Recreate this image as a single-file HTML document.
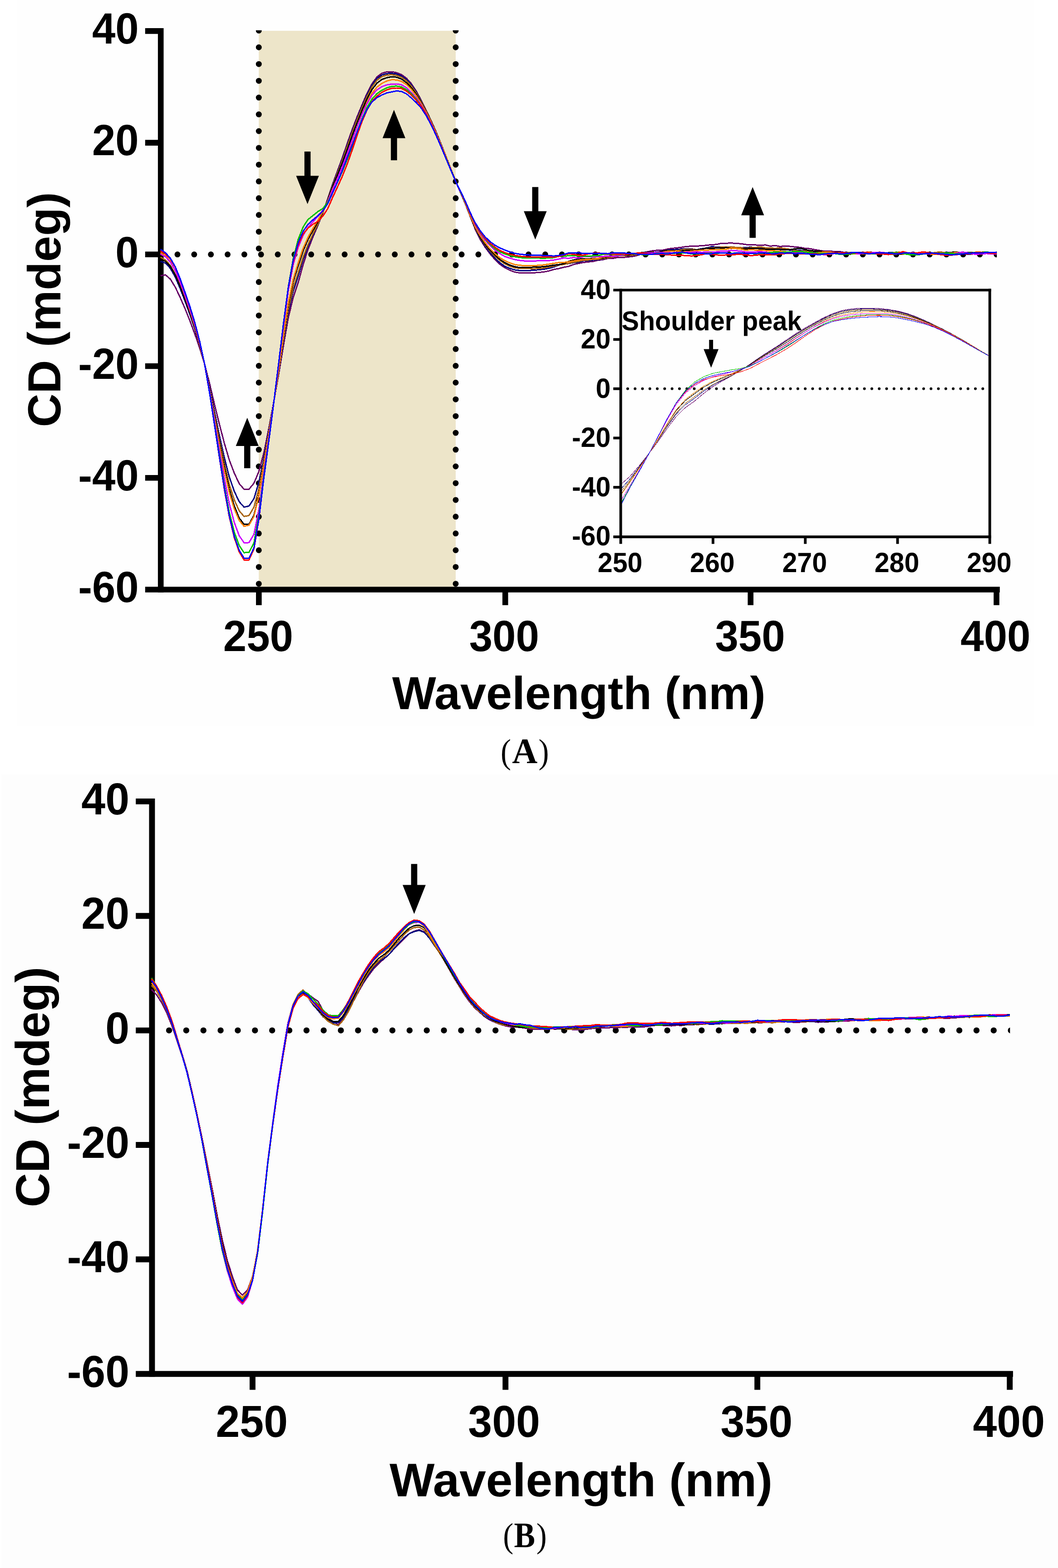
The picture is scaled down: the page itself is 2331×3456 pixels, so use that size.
<!DOCTYPE html>
<html lang="en">
<head>
<meta charset="utf-8">
<title>CD spectra</title>
<style>
html,body{margin:0;padding:0;background:#fff;}
body{width:2331px;height:3456px;overflow:hidden;}
svg{display:block;}
</style>
</head>
<body>
<svg width="2331" height="3456" viewBox="0 0 2331 3456" shape-rendering="geometricPrecision" text-rendering="geometricPrecision">
<rect x="0" y="0" width="2331" height="3456" fill="#ffffff"/>
<rect x="37" y="0" width="2241" height="1599.5" fill="#fefefe"/>
<rect x="3" y="1707" width="2328" height="1749" fill="#fdfdfd"/>
<defs>
<clipPath id="clipA"><rect x="340" y="66.7" width="1856.2" height="1240"/></clipPath>
<clipPath id="clipI"><rect x="1367.6" y="639.4" width="813.1" height="543.7"/></clipPath>
<clipPath id="clipB"><rect x="320" y="1760" width="1905.3" height="1275"/></clipPath>
</defs>
<g id="panelA">
<rect x="570.2" y="67.9" width="433.8" height="1225.3" fill="#ede5c9"/>
<polygon points="544.7,920.7 569.9,983.0 551.5,983.0 551.5,1032.1 537.9,1032.1 537.9,983.0 519.6,983.0" fill="#000"/>
<polygon points="677.5,449.7 702.6,387.4 684.3,387.4 684.3,334.1 670.7,334.1 670.7,387.4 652.4,387.4" fill="#000"/>
<polygon points="868.0,242.1 893.1,304.4 874.8,304.4 874.8,353.2 861.2,353.2 861.2,304.4 842.9,304.4" fill="#000"/>
<polygon points="1179.3,527.9 1204.5,465.6 1186.1,465.6 1186.1,412.3 1172.5,412.3 1172.5,465.6 1154.1,465.6" fill="#000"/>
<polygon points="1658.2,412.3 1683.4,474.6 1665.0,474.6 1665.0,524.2 1651.4,524.2 1651.4,474.6 1633.0,474.6" fill="#000"/>
<g stroke="#000" stroke-width="12.6" fill="none" stroke-linecap="butt">
<line x1="354.2" y1="62.1" x2="354.2" y2="1305.8"/>
<line x1="319.8" y1="1299.5" x2="2202.8" y2="1299.5"/>
<line x1="319.8" y1="68.4" x2="354.2" y2="68.4"/>
<line x1="319.8" y1="314.6" x2="354.2" y2="314.6"/>
<line x1="319.8" y1="560.8" x2="354.2" y2="560.8"/>
<line x1="319.8" y1="807" x2="354.2" y2="807"/>
<line x1="319.8" y1="1053.2" x2="354.2" y2="1053.2"/>
<line x1="570.3" y1="1299.5" x2="570.3" y2="1333.8"/>
<line x1="1113.2" y1="1299.5" x2="1113.2" y2="1333.8"/>
<line x1="1653.7" y1="1299.5" x2="1653.7" y2="1333.8"/>
<line x1="2195.5" y1="1299.5" x2="2195.5" y2="1333.8"/>
</g>
<g clip-path="url(#clipA)" stroke="#000" stroke-width="13" stroke-linecap="round" fill="none">
<line x1="570.2" y1="67.3" x2="570.2" y2="1290" stroke-dasharray="0 36.95"/>
<line x1="1004" y1="67.3" x2="1004" y2="1290" stroke-dasharray="0 36.95"/>
<line x1="391" y1="560.8" x2="2200" y2="560.8" stroke-dasharray="0 36.83"/>
</g>
<g clip-path="url(#clipA)">
<polyline points="353.6,607.9 364.4,605.7 375.3,615.1 386.1,632.8 396.9,655.5 407.8,680.5 418.6,707.6 429.4,736.7 440.3,768.1 451.1,803.8 462.0,846.3 472.8,892.1 483.6,935.9 494.5,977.6 505.3,1014.2 516.1,1042.5 527.0,1065.9 537.8,1078.4 548.6,1078.4 559.5,1065.0 570.3,1039.3 581.1,999.2 592.0,945.7 602.8,887.8 613.6,827.3 624.5,761.5 635.3,700.0 646.1,655.1 657.0,622.7 667.8,583.6 678.7,549.7 689.5,522.3 700.3,497.0 711.2,469.2 722.0,438.6 732.8,405.9 743.7,376.3 754.5,347.0 765.3,315.2 776.2,284.7 787.0,256.8 797.8,230.7 808.7,205.5 819.5,184.9 830.3,169.8 841.2,161.5 852.0,158.5 862.8,158.1 873.7,160.1 884.5,164.4 895.4,172.4 906.2,184.3 917.0,200.8 927.9,220.8 938.7,242.3 949.5,265.3 960.4,289.6 971.2,315.8 982.0,342.9 992.9,371.6 1003.7,399.5 1014.5,424.5 1025.4,449.9 1036.2,477.8 1047.0,505.2 1057.9,527.5 1068.7,544.6 1079.5,559.3 1090.4,571.7 1101.2,582.4 1112.1,590.0 1122.9,595.4 1133.7,599.6 1144.6,601.4 1155.4,601.6 1166.2,601.2 1177.1,601.2 1187.9,600.5 1198.7,599.3 1209.6,597.1 1220.4,593.9 1231.2,591.9 1242.1,589.1 1252.9,587.0 1263.7,583.0 1274.6,580.6 1285.4,578.5 1296.2,577.2 1307.1,576.3 1317.9,573.6 1328.8,572.3 1339.6,569.6 1350.4,569.6 1361.3,567.4 1372.1,567.5 1382.9,566.4 1393.8,565.3 1404.6,562.9 1415.4,559.2 1426.3,555.0 1437.1,552.9 1447.9,551.7 1458.8,551.7 1469.6,549.1 1480.4,547.4 1491.3,546.4 1502.1,545.0 1512.9,543.2 1523.8,542.8 1534.6,542.3 1545.5,541.7 1556.3,540.7 1567.1,539.3 1578.0,538.9 1588.8,536.4 1599.6,536.3 1610.5,535.5 1621.3,536.8 1632.1,537.1 1643.0,538.9 1653.8,539.8 1664.6,539.9 1675.5,540.7 1686.3,539.8 1697.1,542.5 1708.0,541.2 1718.8,543.5 1729.6,542.1 1740.5,543.1 1751.3,544.2 1762.2,545.2 1773.0,547.3 1783.8,548.1 1794.7,550.1 1805.5,552.0 1816.3,553.6 1827.2,553.3 1838.0,554.4 1848.8,554.2 1859.7,556.4 1870.5,556.9 1881.3,558.4 1892.2,557.0 1903.0,556.9 1913.8,555.2 1924.7,556.4 1935.5,557.1 1946.3,558.3 1957.2,558.9 1968.0,558.4 1978.9,558.5 1989.7,558.3 2000.5,559.5 2011.4,559.9 2022.2,558.4 2033.0,557.8 2043.9,558.1 2054.7,559.2 2065.5,557.5 2076.4,557.9 2087.2,558.4 2098.0,560.1 2108.9,560.4 2119.7,559.6 2130.5,559.1 2141.4,557.7 2152.2,558.9 2163.0,558.5 2173.9,559.0 2184.7,558.5 2195.6,559.8" fill="none" stroke="#660066" stroke-width="3" stroke-linejoin="round" stroke-linecap="butt" shape-rendering="crispEdges"/>
<polyline points="353.6,576.0 364.4,579.8 375.3,591.3 386.1,610.4 396.9,635.8 407.8,663.9 418.6,693.7 429.4,726.1 440.3,762.5 451.1,804.2 462.0,854.1 472.8,908.3 483.6,960.3 494.5,1009.7 505.3,1051.6 516.1,1082.6 527.0,1105.8 537.8,1117.8 548.6,1115.3 559.5,1099.2 570.3,1063.3 581.1,1011.7 592.0,951.0 602.8,887.2 613.6,821.1 624.5,751.6 635.3,687.4 646.1,641.1 657.0,608.5 667.8,572.4 678.7,542.4 689.5,518.3 700.3,496.1 711.2,470.0 722.0,440.0 732.8,407.3 743.7,378.6 754.5,350.4 765.3,319.4 776.2,288.9 787.0,260.9 797.8,234.4 808.7,209.2 819.5,188.3 830.3,173.2 841.2,165.3 852.0,162.2 862.8,161.6 873.7,163.1 884.5,167.2 895.4,175.2 906.2,186.8 917.0,202.8 927.9,221.8 938.7,243.4 949.5,266.0 960.4,290.6 971.2,316.0 982.0,343.6 992.9,371.9 1003.7,399.4 1014.5,423.8 1025.4,449.2 1036.2,477.3 1047.0,503.6 1057.9,525.1 1068.7,542.1 1079.5,556.6 1090.4,569.0 1101.2,579.1 1112.1,586.9 1122.9,591.5 1133.7,594.8 1144.6,596.3 1155.4,596.6 1166.2,596.2 1177.1,595.6 1187.9,594.6 1198.7,593.4 1209.6,591.4 1220.4,588.4 1231.2,584.5 1242.1,581.7 1252.9,580.9 1263.7,578.9 1274.6,578.0 1285.4,574.8 1296.2,574.8 1307.1,573.0 1317.9,572.4 1328.8,570.9 1339.6,567.8 1350.4,565.0 1361.3,562.8 1372.1,562.2 1382.9,561.8 1393.8,562.4 1404.6,561.5 1415.4,560.5 1426.3,556.9 1437.1,556.7 1447.9,555.6 1458.8,554.7 1469.6,551.9 1480.4,550.6 1491.3,549.7 1502.1,548.7 1512.9,548.8 1523.8,548.4 1534.6,550.6 1545.5,548.3 1556.3,546.7 1567.1,543.9 1578.0,544.1 1588.8,544.4 1599.6,545.0 1610.5,545.9 1621.3,546.2 1632.1,546.5 1643.0,545.2 1653.8,544.9 1664.6,545.3 1675.5,547.5 1686.3,548.9 1697.1,548.1 1708.0,547.8 1718.8,547.8 1729.6,549.8 1740.5,551.4 1751.3,551.9 1762.2,551.7 1773.0,552.8 1783.8,554.0 1794.7,555.3 1805.5,555.3 1816.3,556.8 1827.2,557.3 1838.0,558.5 1848.8,556.8 1859.7,557.5 1870.5,556.6 1881.3,556.3 1892.2,556.1 1903.0,557.3 1913.8,558.5 1924.7,558.3 1935.5,558.8 1946.3,558.6 1957.2,557.0 1968.0,556.5 1978.9,557.1 1989.7,559.6 2000.5,559.2 2011.4,560.0 2022.2,560.1 2033.0,559.3 2043.9,559.1 2054.7,557.3 2065.5,557.1 2076.4,556.2 2087.2,556.6 2098.0,556.3 2108.9,556.7 2119.7,557.6 2130.5,560.4 2141.4,560.2 2152.2,558.5 2163.0,556.6 2173.9,557.4 2184.7,559.3 2195.6,560.5" fill="none" stroke="#000080" stroke-width="3" stroke-linejoin="round" stroke-linecap="butt" shape-rendering="crispEdges"/>
<polyline points="353.6,567.1 364.4,572.8 375.3,584.8 386.1,604.1 396.9,629.9 407.8,659.4 418.6,690.8 429.4,724.2 440.3,761.9 451.1,804.6 462.0,856.7 472.8,913.5 483.6,968.8 494.5,1022.3 505.3,1067.7 516.1,1101.6 527.0,1125.9 537.8,1138.3 548.6,1136.3 559.5,1117.8 570.3,1077.2 581.1,1018.9 592.0,955.0 602.8,888.5 613.6,819.8 624.5,747.8 635.3,681.2 646.1,633.9 657.0,600.8 667.8,566.8 678.7,538.7 689.5,515.8 700.3,494.3 711.2,469.2 722.0,440.7 732.8,409.4 743.7,381.0 754.5,353.0 765.3,322.0 776.2,291.5 787.0,263.6 797.8,237.2 808.7,212.4 819.5,191.6 830.3,177.2 841.2,168.9 852.0,165.6 862.8,164.6 873.7,166.3 884.5,170.2 895.4,177.7 906.2,189.6 917.0,204.9 927.9,223.8 938.7,244.0 949.5,266.8 960.4,291.0 971.2,317.1 982.0,343.5 992.9,371.5 1003.7,398.3 1014.5,423.4 1025.4,448.5 1036.2,476.8 1047.0,502.6 1057.9,523.4 1068.7,539.5 1079.5,552.9 1090.4,564.6 1101.2,573.9 1112.1,581.5 1122.9,586.7 1133.7,590.2 1144.6,591.6 1155.4,591.8 1166.2,592.0 1177.1,592.1 1187.9,591.7 1198.7,590.6 1209.6,588.6 1220.4,586.3 1231.2,584.0 1242.1,582.9 1252.9,580.3 1263.7,577.9 1274.6,576.4 1285.4,573.1 1296.2,573.2 1307.1,571.2 1317.9,571.3 1328.8,569.9 1339.6,568.2 1350.4,566.7 1361.3,564.1 1372.1,563.3 1382.9,562.8 1393.8,562.2 1404.6,560.8 1415.4,557.8 1426.3,557.0 1437.1,555.7 1447.9,556.6 1458.8,554.2 1469.6,554.0 1480.4,553.2 1491.3,552.9 1502.1,550.3 1512.9,549.3 1523.8,549.4 1534.6,550.2 1545.5,549.2 1556.3,547.3 1567.1,546.7 1578.0,545.6 1588.8,544.9 1599.6,544.9 1610.5,544.0 1621.3,545.3 1632.1,545.7 1643.0,547.8 1653.8,545.7 1664.6,545.4 1675.5,544.2 1686.3,546.2 1697.1,546.5 1708.0,547.3 1718.8,546.4 1729.6,547.8 1740.5,549.4 1751.3,552.2 1762.2,553.4 1773.0,553.5 1783.8,553.2 1794.7,553.4 1805.5,555.6 1816.3,557.1 1827.2,555.7 1838.0,557.3 1848.8,556.9 1859.7,559.3 1870.5,556.5 1881.3,558.1 1892.2,557.7 1903.0,559.9 1913.8,560.0 1924.7,558.7 1935.5,556.9 1946.3,556.5 1957.2,558.5 1968.0,560.8 1978.9,560.8 1989.7,560.2 2000.5,558.7 2011.4,558.5 2022.2,559.4 2033.0,559.4 2043.9,559.4 2054.7,557.4 2065.5,555.9 2076.4,556.0 2087.2,557.7 2098.0,559.3 2108.9,559.7 2119.7,559.7 2130.5,559.7 2141.4,560.1 2152.2,559.0 2163.0,559.0 2173.9,558.0 2184.7,558.6 2195.6,559.1" fill="none" stroke="#a86410" stroke-width="3" stroke-linejoin="round" stroke-linecap="butt" shape-rendering="crispEdges"/>
<polyline points="353.6,571.4 364.4,576.0 375.3,587.2 386.1,606.1 396.9,631.5 407.8,660.2 418.6,690.4 429.4,723.1 440.3,760.6 451.1,804.2 462.0,857.9 472.8,917.2 483.6,975.2 494.5,1030.8 505.3,1079.0 516.1,1115.0 527.0,1141.7 537.8,1155.9 548.6,1155.3 559.5,1135.8 570.3,1090.4 581.1,1025.9 592.0,958.8 602.8,888.5 613.6,816.0 624.5,740.3 635.3,670.7 646.1,620.5 657.0,585.6 667.8,552.9 678.7,527.7 689.5,507.9 700.3,489.1 711.2,466.7 722.0,440.6 732.8,411.6 743.7,384.7 754.5,358.2 765.3,328.9 776.2,298.5 787.0,270.0 797.8,242.8 808.7,218.0 819.5,197.5 830.3,183.5 841.2,175.2 852.0,171.3 862.8,169.2 873.7,170.2 884.5,174.1 895.4,182.1 906.2,193.4 917.0,207.9 927.9,225.6 938.7,245.7 949.5,267.8 960.4,291.9 971.2,317.4 982.0,344.3 992.9,371.7 1003.7,398.6 1014.5,422.8 1025.4,448.0 1036.2,475.5 1047.0,501.2 1057.9,522.0 1068.7,538.0 1079.5,551.3 1090.4,562.2 1101.2,571.8 1112.1,579.0 1122.9,584.2 1133.7,587.7 1144.6,589.6 1155.4,589.8 1166.2,589.4 1177.1,588.8 1187.9,588.4 1198.7,587.6 1209.6,586.1 1220.4,584.4 1231.2,583.2 1242.1,581.1 1252.9,576.1 1263.7,573.0 1274.6,571.2 1285.4,570.4 1296.2,570.4 1307.1,569.6 1317.9,569.1 1328.8,568.1 1339.6,566.7 1350.4,563.3 1361.3,562.0 1372.1,561.6 1382.9,561.9 1393.8,559.7 1404.6,558.6 1415.4,556.3 1426.3,557.0 1437.1,556.0 1447.9,556.2 1458.8,553.9 1469.6,552.0 1480.4,552.4 1491.3,553.1 1502.1,553.0 1512.9,551.7 1523.8,551.6 1534.6,550.5 1545.5,549.1 1556.3,546.9 1567.1,547.7 1578.0,546.7 1588.8,546.9 1599.6,545.7 1610.5,547.3 1621.3,547.9 1632.1,548.6 1643.0,548.5 1653.8,547.5 1664.6,547.7 1675.5,548.2 1686.3,549.1 1697.1,550.1 1708.0,549.1 1718.8,550.1 1729.6,550.5 1740.5,550.5 1751.3,548.4 1762.2,547.1 1773.0,549.7 1783.8,552.4 1794.7,553.2 1805.5,553.7 1816.3,555.1 1827.2,556.7 1838.0,556.6 1848.8,556.8 1859.7,558.6 1870.5,560.4 1881.3,559.4 1892.2,558.9 1903.0,557.9 1913.8,558.4 1924.7,557.4 1935.5,557.7 1946.3,557.5 1957.2,558.8 1968.0,558.9 1978.9,560.2 1989.7,558.6 2000.5,558.3 2011.4,558.1 2022.2,559.4 2033.0,559.5 2043.9,558.4 2054.7,559.4 2065.5,560.1 2076.4,561.0 2087.2,557.6 2098.0,556.0 2108.9,555.8 2119.7,557.3 2130.5,556.4 2141.4,556.5 2152.2,557.4 2163.0,558.1 2173.9,557.5 2184.7,556.7 2195.6,558.1" fill="none" stroke="#000000" stroke-width="3" stroke-linejoin="round" stroke-linecap="butt" shape-rendering="crispEdges"/>
<polyline points="353.6,557.0 364.4,563.9 375.3,576.3 386.1,595.9 396.9,622.8 407.8,653.3 418.6,685.0 429.4,719.3 440.3,758.8 451.1,804.4 462.0,860.8 472.8,922.1 483.6,981.8 494.5,1038.1 505.3,1086.2 516.1,1121.5 527.0,1147.1 537.8,1160.1 548.6,1157.5 559.5,1138.5 570.3,1092.7 581.1,1027.7 592.0,959.8 602.8,889.5 613.6,815.4 624.5,738.2 635.3,666.7 646.1,615.1 657.0,579.4 667.8,547.3 678.7,522.8 689.5,503.3 700.3,485.7 711.2,466.2 722.0,443.3 732.8,416.3 743.7,392.3 754.5,367.8 765.3,340.7 776.2,309.5 787.0,279.2 797.8,250.8 808.7,225.2 819.5,205.5 830.3,192.3 841.2,183.9 852.0,178.6 862.8,175.8 873.7,176.1 884.5,179.3 895.4,186.1 906.2,196.9 917.0,210.8 927.9,227.7 938.7,247.1 949.5,268.8 960.4,292.4 971.2,317.9 982.0,344.5 992.9,372.5 1003.7,398.9 1014.5,423.2 1025.4,447.9 1036.2,475.3 1047.0,499.6 1057.9,519.4 1068.7,534.6 1079.5,548.2 1090.4,559.0 1101.2,568.0 1112.1,574.5 1122.9,579.3 1133.7,583.0 1144.6,584.8 1155.4,585.3 1166.2,585.5 1177.1,585.3 1187.9,584.8 1198.7,583.7 1209.6,582.1 1220.4,580.4 1231.2,578.7 1242.1,578.4 1252.9,577.0 1263.7,575.3 1274.6,573.3 1285.4,572.1 1296.2,571.8 1307.1,570.7 1317.9,569.3 1328.8,566.3 1339.6,565.6 1350.4,563.8 1361.3,562.9 1372.1,560.9 1382.9,560.1 1393.8,558.9 1404.6,558.7 1415.4,559.2 1426.3,558.7 1437.1,558.2 1447.9,556.0 1458.8,556.2 1469.6,554.0 1480.4,553.5 1491.3,552.8 1502.1,555.1 1512.9,554.9 1523.8,553.5 1534.6,552.3 1545.5,551.6 1556.3,551.7 1567.1,550.3 1578.0,550.6 1588.8,549.8 1599.6,549.5 1610.5,546.9 1621.3,547.7 1632.1,548.9 1643.0,551.7 1653.8,550.4 1664.6,551.2 1675.5,551.1 1686.3,552.0 1697.1,552.3 1708.0,553.0 1718.8,553.8 1729.6,554.9 1740.5,555.5 1751.3,555.7 1762.2,554.4 1773.0,554.7 1783.8,556.6 1794.7,557.4 1805.5,556.9 1816.3,555.3 1827.2,555.3 1838.0,557.1 1848.8,557.3 1859.7,557.9 1870.5,558.4 1881.3,559.8 1892.2,558.3 1903.0,557.2 1913.8,555.7 1924.7,557.4 1935.5,556.9 1946.3,558.4 1957.2,558.2 1968.0,557.0 1978.9,555.9 1989.7,556.2 2000.5,558.4 2011.4,558.7 2022.2,557.4 2033.0,557.7 2043.9,559.4 2054.7,560.7 2065.5,560.3 2076.4,558.8 2087.2,557.5 2098.0,557.2 2108.9,556.7 2119.7,558.7 2130.5,558.2 2141.4,557.2 2152.2,555.6 2163.0,556.1 2173.9,557.7 2184.7,556.9 2195.6,557.9" fill="none" stroke="#ff8000" stroke-width="3" stroke-linejoin="round" stroke-linecap="butt" shape-rendering="crispEdges"/>
<polyline points="353.6,560.1 364.4,566.0 375.3,577.6 386.1,596.3 396.9,621.7 407.8,651.6 418.6,682.8 429.4,717.3 440.3,757.2 451.1,804.2 462.0,863.3 472.8,928.5 483.6,993.2 494.5,1055.7 505.3,1110.3 516.1,1151.3 527.0,1180.7 537.8,1196.5 548.6,1195.9 559.5,1177.6 570.3,1123.1 581.1,1044.8 592.0,968.5 602.8,889.7 613.6,806.3 624.5,719.3 635.3,640.1 646.1,583.2 657.0,545.1 667.8,519.0 678.7,500.9 689.5,489.1 700.3,477.0 711.2,463.4 722.0,444.2 732.8,417.9 743.7,392.4 754.5,366.4 765.3,337.2 776.2,307.4 787.0,278.8 797.8,251.9 808.7,228.4 819.5,210.0 830.3,198.2 841.2,191.1 852.0,187.2 862.8,185.5 873.7,185.0 884.5,186.8 895.4,193.3 906.2,203.3 917.0,215.9 927.9,231.2 938.7,249.8 949.5,271.2 960.4,294.5 971.2,319.8 982.0,346.0 992.9,372.9 1003.7,399.2 1014.5,422.4 1025.4,446.2 1036.2,472.2 1047.0,495.5 1057.9,514.4 1068.7,529.1 1079.5,541.0 1090.4,551.4 1101.2,558.9 1112.1,565.2 1122.9,568.9 1133.7,572.0 1144.6,574.0 1155.4,575.1 1166.2,575.6 1177.1,575.2 1187.9,574.8 1198.7,574.7 1209.6,574.2 1220.4,573.2 1231.2,571.0 1242.1,568.7 1252.9,569.3 1263.7,567.7 1274.6,568.8 1285.4,565.7 1296.2,565.9 1307.1,565.3 1317.9,565.3 1328.8,565.2 1339.6,564.4 1350.4,565.2 1361.3,563.8 1372.1,561.9 1382.9,559.3 1393.8,558.8 1404.6,557.8 1415.4,558.1 1426.3,557.6 1437.1,557.5 1447.9,556.2 1458.8,556.1 1469.6,556.5 1480.4,557.2 1491.3,556.6 1502.1,557.0 1512.9,555.8 1523.8,556.1 1534.6,554.8 1545.5,556.2 1556.3,555.5 1567.1,555.4 1578.0,555.0 1588.8,553.6 1599.6,553.7 1610.5,551.9 1621.3,552.8 1632.1,553.5 1643.0,555.3 1653.8,555.7 1664.6,555.1 1675.5,554.7 1686.3,555.4 1697.1,557.0 1708.0,557.3 1718.8,559.0 1729.6,557.2 1740.5,557.7 1751.3,556.5 1762.2,557.2 1773.0,557.0 1783.8,557.9 1794.7,559.3 1805.5,560.5 1816.3,561.2 1827.2,560.8 1838.0,558.8 1848.8,558.1 1859.7,557.0 1870.5,559.5 1881.3,558.5 1892.2,559.4 1903.0,558.4 1913.8,558.3 1924.7,556.7 1935.5,556.5 1946.3,556.9 1957.2,559.2 1968.0,558.9 1978.9,559.2 1989.7,557.8 2000.5,558.3 2011.4,556.7 2022.2,559.0 2033.0,559.2 2043.9,559.9 2054.7,558.6 2065.5,559.0 2076.4,559.9 2087.2,560.8 2098.0,560.1 2108.9,557.8 2119.7,555.8 2130.5,556.8 2141.4,559.5 2152.2,560.8 2163.0,559.1 2173.9,559.0 2184.7,559.2 2195.6,559.3" fill="none" stroke="#cc00ff" stroke-width="3" stroke-linejoin="round" stroke-linecap="butt" shape-rendering="crispEdges"/>
<polyline points="353.6,550.2 364.4,558.0 375.3,569.3 386.1,588.1 396.9,614.0 407.8,645.4 418.6,677.7 429.4,713.2 440.3,754.6 451.1,804.4 462.0,866.4 472.8,935.9 483.6,1004.4 494.5,1071.9 505.3,1129.5 516.1,1172.6 527.0,1202.2 537.8,1218.2 548.6,1217.4 559.5,1196.6 570.3,1136.5 581.1,1051.7 592.0,972.5 602.8,891.0 613.6,804.2 624.5,714.6 635.3,631.7 646.1,570.0 657.0,527.4 667.8,500.4 678.7,483.6 689.5,475.2 700.3,466.4 711.2,459.7 722.0,446.3 732.8,424.9 743.7,401.2 754.5,377.3 765.3,350.7 776.2,320.7 787.0,290.0 797.8,261.8 808.7,236.8 819.5,218.5 830.3,206.6 841.2,199.1 852.0,193.7 862.8,190.4 873.7,189.8 884.5,191.6 895.4,197.6 906.2,206.9 917.0,218.8 927.9,233.2 938.7,251.3 949.5,272.4 960.4,295.4 971.2,320.6 982.0,346.3 992.9,373.1 1003.7,399.0 1014.5,422.1 1025.4,445.8 1036.2,471.3 1047.0,494.0 1057.9,511.8 1068.7,526.2 1079.5,538.1 1090.4,547.9 1101.2,555.0 1112.1,559.7 1122.9,563.2 1133.7,565.7 1144.6,567.6 1155.4,568.7 1166.2,568.9 1177.1,568.9 1187.9,569.0 1198.7,569.2 1209.6,568.7 1220.4,567.9 1231.2,564.6 1242.1,564.6 1252.9,563.7 1263.7,563.5 1274.6,564.4 1285.4,564.7 1296.2,564.8 1307.1,563.8 1317.9,563.5 1328.8,560.4 1339.6,560.5 1350.4,560.1 1361.3,561.7 1372.1,560.2 1382.9,558.9 1393.8,558.8 1404.6,559.5 1415.4,561.4 1426.3,561.5 1437.1,560.1 1447.9,558.5 1458.8,558.4 1469.6,559.0 1480.4,558.9 1491.3,557.6 1502.1,557.6 1512.9,557.8 1523.8,559.6 1534.6,560.0 1545.5,558.4 1556.3,558.6 1567.1,557.9 1578.0,559.0 1588.8,557.5 1599.6,557.9 1610.5,558.2 1621.3,557.8 1632.1,557.2 1643.0,558.6 1653.8,558.7 1664.6,559.3 1675.5,558.2 1686.3,557.9 1697.1,556.7 1708.0,555.5 1718.8,556.1 1729.6,555.9 1740.5,555.6 1751.3,554.3 1762.2,554.0 1773.0,555.4 1783.8,556.7 1794.7,557.2 1805.5,558.3 1816.3,558.1 1827.2,559.3 1838.0,558.6 1848.8,560.3 1859.7,560.7 1870.5,560.5 1881.3,558.5 1892.2,557.0 1903.0,557.1 1913.8,558.0 1924.7,559.6 1935.5,559.2 1946.3,559.3 1957.2,558.2 1968.0,557.1 1978.9,556.9 1989.7,558.7 2000.5,560.8 2011.4,562.0 2022.2,561.7 2033.0,560.0 2043.9,558.6 2054.7,558.9 2065.5,559.4 2076.4,558.5 2087.2,557.6 2098.0,558.7 2108.9,560.0 2119.7,559.5 2130.5,558.4 2141.4,557.2 2152.2,556.4 2163.0,556.0 2173.9,555.8 2184.7,556.3 2195.6,558.5" fill="none" stroke="#00c000" stroke-width="3" stroke-linejoin="round" stroke-linecap="butt" shape-rendering="crispEdges"/>
<polyline points="353.6,553.2 364.4,559.5 375.3,570.5 386.1,588.9 396.9,614.5 407.8,645.0 418.6,677.4 429.4,713.1 440.3,754.9 451.1,804.8 462.0,867.6 472.8,938.4 483.6,1009.5 494.5,1079.5 505.3,1139.6 516.1,1184.7 527.0,1216.3 537.8,1234.2 548.6,1234.3 559.5,1210.0 570.3,1144.7 581.1,1055.0 592.0,973.8 602.8,890.7 613.6,803.7 624.5,714.5 635.3,634.1 646.1,577.7 657.0,539.8 667.8,515.7 678.7,502.8 689.5,494.3 700.3,488.1 711.2,476.5 722.0,460.0 732.8,435.3 743.7,411.8 754.5,387.9 765.3,360.9 776.2,330.0 787.0,297.4 797.8,267.5 808.7,242.1 819.5,223.8 830.3,212.1 841.2,203.8 852.0,198.2 862.8,194.5 873.7,194.0 884.5,194.9 895.4,200.7 906.2,209.3 917.0,220.7 927.9,233.8 938.7,251.5 949.5,272.4 960.4,295.8 971.2,320.9 982.0,346.8 992.9,373.4 1003.7,399.2 1014.5,421.4 1025.4,445.1 1036.2,470.5 1047.0,493.4 1057.9,510.9 1068.7,524.8 1079.5,536.0 1090.4,544.9 1101.2,551.9 1112.1,556.6 1122.9,560.5 1133.7,562.9 1144.6,564.7 1155.4,565.8 1166.2,566.5 1177.1,566.8 1187.9,566.2 1198.7,566.2 1209.6,566.2 1220.4,566.5 1231.2,565.1 1242.1,562.2 1252.9,559.6 1263.7,560.3 1274.6,562.9 1285.4,562.2 1296.2,559.8 1307.1,557.8 1317.9,557.4 1328.8,558.9 1339.6,560.0 1350.4,559.5 1361.3,560.6 1372.1,559.7 1382.9,560.4 1393.8,558.5 1404.6,557.9 1415.4,557.7 1426.3,559.0 1437.1,560.5 1447.9,560.9 1458.8,560.9 1469.6,561.1 1480.4,562.3 1491.3,562.3 1502.1,562.9 1512.9,563.2 1523.8,564.3 1534.6,562.8 1545.5,561.6 1556.3,558.9 1567.1,560.5 1578.0,561.7 1588.8,562.8 1599.6,561.9 1610.5,561.8 1621.3,561.0 1632.1,560.9 1643.0,561.3 1653.8,563.5 1664.6,562.7 1675.5,561.2 1686.3,561.0 1697.1,561.8 1708.0,561.3 1718.8,559.4 1729.6,559.0 1740.5,558.7 1751.3,558.5 1762.2,559.3 1773.0,559.9 1783.8,559.9 1794.7,558.9 1805.5,560.3 1816.3,560.9 1827.2,559.8 1838.0,556.8 1848.8,558.4 1859.7,557.0 1870.5,559.2 1881.3,556.7 1892.2,557.9 1903.0,556.2 1913.8,556.9 1924.7,558.9 1935.5,559.2 1946.3,559.9 1957.2,561.1 1968.0,559.3 1978.9,558.1 1989.7,554.6 2000.5,557.6 2011.4,557.0 2022.2,557.2 2033.0,555.2 2043.9,556.4 2054.7,558.7 2065.5,560.1 2076.4,561.9 2087.2,562.3 2098.0,562.1 2108.9,561.1 2119.7,559.8 2130.5,560.0 2141.4,557.6 2152.2,556.4 2163.0,556.3 2173.9,556.9 2184.7,558.6 2195.6,558.9" fill="none" stroke="#ff0000" stroke-width="3" stroke-linejoin="round" stroke-linecap="butt" shape-rendering="crispEdges"/>
<polyline points="353.6,549.5 364.4,557.0 375.3,569.2 386.1,587.9 396.9,614.3 407.8,644.8 418.6,676.2 429.4,711.5 440.3,753.8 451.1,804.2 462.0,867.3 472.8,937.8 483.6,1008.7 494.5,1077.6 505.3,1137.2 516.1,1181.7 527.0,1212.9 537.8,1230.4 548.6,1230.2 559.5,1207.7 570.3,1143.9 581.1,1055.2 592.0,974.0 602.8,890.6 613.6,803.4 624.5,713.5 635.3,632.3 646.1,573.8 657.0,534.8 667.8,510.1 678.7,494.4 689.5,484.5 700.3,475.7 711.2,465.1 722.0,449.1 732.8,425.3 743.7,400.9 754.5,375.5 765.3,347.0 776.2,319.0 787.0,290.4 797.8,263.5 808.7,241.0 819.5,224.8 830.3,215.4 841.2,209.3 852.0,204.9 862.8,202.6 873.7,200.5 884.5,201.6 895.4,206.7 906.2,215.9 917.0,225.9 927.9,237.8 938.7,254.3 949.5,274.3 960.4,297.2 971.2,322.0 982.0,347.8 992.9,374.1 1003.7,399.4 1014.5,421.3 1025.4,444.1 1036.2,469.1 1047.0,491.1 1057.9,508.5 1068.7,521.9 1079.5,532.4 1090.4,540.5 1101.2,546.4 1112.1,551.0 1122.9,555.1 1133.7,558.2 1144.6,560.2 1155.4,561.3 1166.2,562.0 1177.1,562.5 1187.9,562.7 1198.7,563.3 1209.6,563.6 1220.4,564.2 1231.2,563.0 1242.1,561.1 1252.9,557.4 1263.7,557.7 1274.6,556.9 1285.4,558.8 1296.2,559.0 1307.1,558.1 1317.9,559.0 1328.8,558.5 1339.6,559.1 1350.4,557.4 1361.3,557.4 1372.1,557.6 1382.9,558.3 1393.8,558.4 1404.6,560.1 1415.4,560.0 1426.3,560.8 1437.1,560.2 1447.9,559.5 1458.8,558.6 1469.6,559.6 1480.4,558.1 1491.3,557.5 1502.1,555.7 1512.9,557.7 1523.8,558.7 1534.6,558.9 1545.5,558.2 1556.3,559.6 1567.1,559.4 1578.0,557.3 1588.8,557.4 1599.6,557.2 1610.5,559.4 1621.3,557.9 1632.1,557.5 1643.0,558.8 1653.8,558.5 1664.6,558.4 1675.5,557.5 1686.3,557.9 1697.1,559.0 1708.0,559.1 1718.8,557.4 1729.6,558.2 1740.5,557.1 1751.3,559.4 1762.2,558.1 1773.0,558.9 1783.8,560.1 1794.7,560.6 1805.5,561.5 1816.3,559.7 1827.2,558.4 1838.0,558.5 1848.8,559.1 1859.7,559.2 1870.5,558.2 1881.3,556.1 1892.2,557.1 1903.0,558.0 1913.8,559.3 1924.7,558.6 1935.5,557.1 1946.3,557.1 1957.2,558.1 1968.0,559.0 1978.9,559.5 1989.7,557.9 2000.5,557.8 2011.4,558.3 2022.2,560.3 2033.0,559.7 2043.9,558.2 2054.7,557.9 2065.5,559.1 2076.4,559.6 2087.2,560.9 2098.0,561.4 2108.9,560.8 2119.7,559.8 2130.5,558.4 2141.4,558.0 2152.2,557.1 2163.0,557.4 2173.9,556.6 2184.7,556.6 2195.6,556.9" fill="none" stroke="#0000ff" stroke-width="3" stroke-linejoin="round" stroke-linecap="butt" shape-rendering="crispEdges"/>
</g>
<text transform="translate(305.70 96.16) scale(0.96 1)" font-family="'Liberation Sans', Arial, Helvetica, sans-serif" font-size="96.2" font-weight="bold" text-anchor="end">40</text>
<text transform="translate(305.70 342.38) scale(0.96 1)" font-family="'Liberation Sans', Arial, Helvetica, sans-serif" font-size="96.2" font-weight="bold" text-anchor="end">20</text>
<text transform="translate(305.70 588.60) scale(0.96 1)" font-family="'Liberation Sans', Arial, Helvetica, sans-serif" font-size="96.2" font-weight="bold" text-anchor="end">0</text>
<text transform="translate(305.70 834.82) scale(0.96 1)" font-family="'Liberation Sans', Arial, Helvetica, sans-serif" font-size="96.2" font-weight="bold" text-anchor="end">-20</text>
<text transform="translate(305.70 1081.04) scale(0.96 1)" font-family="'Liberation Sans', Arial, Helvetica, sans-serif" font-size="96.2" font-weight="bold" text-anchor="end">-40</text>
<text transform="translate(305.70 1327.26) scale(0.96 1)" font-family="'Liberation Sans', Arial, Helvetica, sans-serif" font-size="96.2" font-weight="bold" text-anchor="end">-60</text>
<text transform="translate(568.85 1435.20) scale(0.96 1)" font-family="'Liberation Sans', Arial, Helvetica, sans-serif" font-size="96.2" font-weight="bold" text-anchor="middle">250</text>
<text transform="translate(1110.80 1435.20) scale(0.96 1)" font-family="'Liberation Sans', Arial, Helvetica, sans-serif" font-size="96.2" font-weight="bold" text-anchor="middle">300</text>
<text transform="translate(1652.50 1435.20) scale(0.96 1)" font-family="'Liberation Sans', Arial, Helvetica, sans-serif" font-size="96.2" font-weight="bold" text-anchor="middle">350</text>
<text transform="translate(2193.40 1435.20) scale(0.96 1)" font-family="'Liberation Sans', Arial, Helvetica, sans-serif" font-size="96.2" font-weight="bold" text-anchor="middle">400</text>
<text transform="translate(1275.30 1563.30) scale(1.003 1)" font-family="'Liberation Sans', Arial, Helvetica, sans-serif" font-size="102.3" font-weight="bold" text-anchor="middle">Wavelength (nm)</text>
<text transform="translate(132.6 682.4) rotate(-90) scale(1.002 1)" font-family="'Liberation Sans', Arial, Helvetica, sans-serif" font-size="102.3" font-weight="bold" text-anchor="middle">CD (mdeg)</text>
<text y="1681.5" font-family="'Liberation Serif', 'Times New Roman', serif" font-size="79.0" text-anchor="start"><tspan x="1103.0" font-size="76.5" textLength="22.9" lengthAdjust="spacingAndGlyphs">(</tspan><tspan x="1128.3" font-weight="bold" textLength="56.0" lengthAdjust="spacingAndGlyphs">A</tspan><tspan x="1186.6" font-size="76.5" textLength="22.9" lengthAdjust="spacingAndGlyphs">)</tspan></text>
<g clip-path="url(#clipI)">
<line x1="1382.9" y1="856.8" x2="2178" y2="856.8" stroke="#000" stroke-width="6" stroke-linecap="round" stroke-dasharray="0 16.3"/>
<polyline points="1367.6,1067.8 1387.9,1050.2 1408.3,1026.6 1428.6,1001.0 1448.9,974.4 1469.2,945.3 1489.6,918.2 1509.9,898.4 1530.2,884.1 1550.6,866.9 1570.9,851.9 1591.2,839.8 1611.6,828.6 1631.9,816.4 1652.2,802.9 1672.5,788.5 1692.9,775.4 1713.2,762.5 1733.5,748.5 1753.9,735.0 1774.2,722.7 1794.5,711.2 1814.9,700.1 1835.2,691.0 1855.5,684.3 1875.8,680.7 1896.2,679.4 1916.5,679.2 1936.8,680.0 1957.2,682.0 1977.5,685.5 1997.8,690.7 2018.2,698.0 2038.5,706.8 2058.8,716.3 2079.1,726.4 2099.5,737.2 2119.8,748.7 2140.1,760.7 2160.5,773.3 2180.8,785.6" fill="none" stroke="#660066" stroke-width="1.1" stroke-linejoin="round" stroke-linecap="butt" shape-rendering="crispEdges"/>
<polyline points="1367.6,1078.4 1387.9,1055.7 1408.3,1028.9 1428.6,1000.8 1448.9,971.6 1469.2,940.9 1489.6,912.7 1509.9,892.2 1530.2,877.8 1550.6,861.9 1570.9,848.7 1591.2,838.0 1611.6,828.3 1631.9,816.7 1652.2,803.5 1672.5,789.1 1692.9,776.4 1713.2,764.0 1733.5,750.3 1753.9,736.9 1774.2,724.5 1794.5,712.9 1814.9,701.7 1835.2,692.5 1855.5,685.8 1875.8,682.4 1896.2,681.0 1916.5,680.7 1936.8,681.4 1957.2,683.2 1977.5,686.7 1997.8,691.8 2018.2,698.9 2038.5,707.3 2058.8,716.8 2079.1,726.8 2099.5,737.6 2119.8,748.8 2140.1,761.0 2160.5,773.5 2180.8,785.6" fill="none" stroke="#000080" stroke-width="1.1" stroke-linejoin="round" stroke-linecap="butt" shape-rendering="crispEdges"/>
<polyline points="1367.6,1084.5 1387.9,1058.9 1408.3,1030.7 1428.6,1001.3 1448.9,971.0 1469.2,939.3 1489.6,909.9 1509.9,889.0 1530.2,874.4 1550.6,859.4 1570.9,847.0 1591.2,837.0 1611.6,827.5 1631.9,816.4 1652.2,803.8 1672.5,790.0 1692.9,777.5 1713.2,765.1 1733.5,751.5 1753.9,738.0 1774.2,725.7 1794.5,714.1 1814.9,703.1 1835.2,693.9 1855.5,687.6 1875.8,683.9 1896.2,682.5 1916.5,682.1 1936.8,682.8 1957.2,684.5 1977.5,687.8 1997.8,693.1 2018.2,699.8 2038.5,708.2 2058.8,717.1 2079.1,727.1 2099.5,737.8 2119.8,749.3 2140.1,761.0 2160.5,773.3 2180.8,785.1" fill="none" stroke="#a86410" stroke-width="1.1" stroke-linejoin="round" stroke-linecap="butt" shape-rendering="crispEdges"/>
<polyline points="1367.6,1090.4 1387.9,1061.9 1408.3,1032.3 1428.6,1001.3 1448.9,969.4 1469.2,936.0 1489.6,905.3 1509.9,883.1 1530.2,867.8 1550.6,853.3 1570.9,842.2 1591.2,833.5 1611.6,825.2 1631.9,815.3 1652.2,803.8 1672.5,791.0 1692.9,779.1 1713.2,767.4 1733.5,754.5 1753.9,741.1 1774.2,728.5 1794.5,716.5 1814.9,705.6 1835.2,696.6 1855.5,690.4 1875.8,686.7 1896.2,685.0 1916.5,684.1 1936.8,684.5 1957.2,686.2 1977.5,689.8 1997.8,694.7 2018.2,701.2 2038.5,708.9 2058.8,717.8 2079.1,727.6 2099.5,738.2 2119.8,749.4 2140.1,761.3 2160.5,773.4 2180.8,785.3" fill="none" stroke="#000000" stroke-width="1.1" stroke-linejoin="round" stroke-linecap="butt" shape-rendering="crispEdges"/>
<polyline points="1367.6,1091.4 1387.9,1062.7 1408.3,1032.8 1428.6,1001.8 1448.9,969.1 1469.2,935.1 1489.6,903.5 1509.9,880.7 1530.2,865.0 1550.6,850.9 1570.9,840.1 1591.2,831.4 1611.6,823.7 1631.9,815.1 1652.2,805.0 1672.5,793.0 1692.9,782.5 1713.2,771.7 1733.5,759.7 1753.9,745.9 1774.2,732.6 1794.5,720.1 1814.9,708.8 1835.2,700.1 1855.5,694.3 1875.8,690.6 1896.2,688.2 1916.5,687.0 1936.8,687.1 1957.2,688.6 1977.5,691.5 1997.8,696.3 2018.2,702.4 2038.5,709.9 2058.8,718.4 2079.1,728.0 2099.5,738.4 2119.8,749.7 2140.1,761.4 2160.5,773.7 2180.8,785.4" fill="none" stroke="#ff8000" stroke-width="1.1" stroke-linejoin="round" stroke-linecap="butt" shape-rendering="crispEdges"/>
<polyline points="1367.6,1104.8 1387.9,1070.3 1408.3,1036.6 1428.6,1001.9 1448.9,965.1 1469.2,926.7 1489.6,891.8 1509.9,866.7 1530.2,849.9 1550.6,838.3 1570.9,830.4 1591.2,825.2 1611.6,819.9 1631.9,813.9 1652.2,805.4 1672.5,793.8 1692.9,782.5 1713.2,771.1 1733.5,758.2 1753.9,745.0 1774.2,732.4 1794.5,720.5 1814.9,710.2 1835.2,702.1 1855.5,696.9 1875.8,693.7 1896.2,692.0 1916.5,691.2 1936.8,691.1 1957.2,691.9 1977.5,694.7 1997.8,699.1 2018.2,704.7 2038.5,711.4 2058.8,719.6 2079.1,729.1 2099.5,739.4 2119.8,750.5 2140.1,762.1 2160.5,773.9 2180.8,785.5" fill="none" stroke="#cc00ff" stroke-width="1.1" stroke-linejoin="round" stroke-linecap="butt" shape-rendering="crispEdges"/>
<polyline points="1367.6,1110.7 1387.9,1073.3 1408.3,1038.4 1428.6,1002.4 1448.9,964.2 1469.2,924.6 1489.6,888.1 1509.9,860.8 1530.2,842.1 1550.6,830.2 1570.9,822.8 1591.2,819.0 1611.6,815.2 1631.9,812.2 1652.2,806.3 1672.5,796.9 1692.9,786.4 1713.2,775.9 1733.5,764.1 1753.9,750.9 1774.2,737.3 1794.5,724.9 1814.9,713.9 1835.2,705.8 1855.5,700.6 1875.8,697.3 1896.2,694.9 1916.5,693.4 1936.8,693.2 1957.2,693.9 1977.5,696.6 1997.8,700.7 2018.2,706.0 2038.5,712.3 2058.8,720.3 2079.1,729.6 2099.5,739.7 2119.8,750.9 2140.1,762.2 2160.5,774.0 2180.8,785.4" fill="none" stroke="#00c000" stroke-width="1.1" stroke-linejoin="round" stroke-linecap="butt" shape-rendering="crispEdges"/>
<polyline points="1367.6,1114.4 1387.9,1074.8 1408.3,1038.9 1428.6,1002.3 1448.9,963.9 1469.2,924.6 1489.6,889.1 1509.9,864.2 1530.2,847.5 1550.6,836.9 1570.9,831.2 1591.2,827.5 1611.6,824.7 1631.9,819.6 1652.2,812.3 1672.5,801.4 1692.9,791.1 1713.2,780.5 1733.5,768.6 1753.9,755.0 1774.2,740.6 1794.5,727.4 1814.9,716.2 1835.2,708.1 1855.5,703.0 1875.8,699.3 1896.2,696.9 1916.5,695.2 1936.8,695.0 1957.2,695.4 1977.5,698.0 1997.8,701.8 2018.2,706.8 2038.5,712.6 2058.8,720.4 2079.1,729.6 2099.5,739.9 2119.8,751.0 2140.1,762.4 2160.5,774.1 2180.8,785.5" fill="none" stroke="#ff0000" stroke-width="1.1" stroke-linejoin="round" stroke-linecap="butt" shape-rendering="crispEdges"/>
<polyline points="1367.6,1114.0 1387.9,1074.8 1408.3,1039.0 1428.6,1002.3 1448.9,963.8 1469.2,924.1 1489.6,888.4 1509.9,862.5 1530.2,845.3 1550.6,834.4 1570.9,827.5 1591.2,823.2 1611.6,819.3 1631.9,814.6 1652.2,807.5 1672.5,797.1 1692.9,786.3 1713.2,775.1 1733.5,762.5 1753.9,750.1 1774.2,737.5 1794.5,725.7 1814.9,715.7 1835.2,708.6 1855.5,704.5 1875.8,701.8 1896.2,699.8 1916.5,698.8 1936.8,697.9 1957.2,698.4 1977.5,700.6 1997.8,704.7 2018.2,709.1 2038.5,714.3 2058.8,721.6 2079.1,730.4 2099.5,740.6 2119.8,751.5 2140.1,762.9 2160.5,774.4 2180.8,785.6" fill="none" stroke="#0000ff" stroke-width="1.1" stroke-linejoin="round" stroke-linecap="butt" shape-rendering="crispEdges"/>
</g>
<g stroke="#000" stroke-width="5.9" fill="none">
<line x1="1367.6" y1="636.4" x2="1367.6" y2="1198.8"/>
<line x1="2180.7" y1="636.4" x2="2180.7" y2="1198.8"/>
<line x1="1351.2" y1="639.4" x2="2183.6" y2="639.4"/>
<line x1="1351.2" y1="1183.2" x2="2183.6" y2="1183.2"/>
<line x1="1351.2" y1="748.2" x2="1367.6" y2="748.2"/>
<line x1="1351.2" y1="856.8" x2="1367.6" y2="856.8"/>
<line x1="1351.2" y1="965.4" x2="1367.6" y2="965.4"/>
<line x1="1351.2" y1="1074" x2="1367.6" y2="1074"/>
<line x1="1570.9" y1="1183.2" x2="1570.9" y2="1198.8"/>
<line x1="1774.2" y1="1183.2" x2="1774.2" y2="1198.8"/>
<line x1="1977.5" y1="1183.2" x2="1977.5" y2="1198.8"/>
</g>
<text transform="translate(1345.30 659.40) scale(0.961 1)" font-family="'Liberation Sans', Arial, Helvetica, sans-serif" font-size="61.5" font-weight="bold" text-anchor="end">40</text>
<text transform="translate(1345.30 768.00) scale(0.961 1)" font-family="'Liberation Sans', Arial, Helvetica, sans-serif" font-size="61.5" font-weight="bold" text-anchor="end">20</text>
<text transform="translate(1345.30 876.60) scale(0.961 1)" font-family="'Liberation Sans', Arial, Helvetica, sans-serif" font-size="61.5" font-weight="bold" text-anchor="end">0</text>
<text transform="translate(1345.30 985.20) scale(0.961 1)" font-family="'Liberation Sans', Arial, Helvetica, sans-serif" font-size="61.5" font-weight="bold" text-anchor="end">-20</text>
<text transform="translate(1345.30 1093.80) scale(0.961 1)" font-family="'Liberation Sans', Arial, Helvetica, sans-serif" font-size="61.5" font-weight="bold" text-anchor="end">-40</text>
<text transform="translate(1345.30 1202.40) scale(0.961 1)" font-family="'Liberation Sans', Arial, Helvetica, sans-serif" font-size="61.5" font-weight="bold" text-anchor="end">-60</text>
<text transform="translate(1366.10 1260.80) scale(0.961 1)" font-family="'Liberation Sans', Arial, Helvetica, sans-serif" font-size="61.5" font-weight="bold" text-anchor="middle">250</text>
<text transform="translate(1569.40 1260.80) scale(0.961 1)" font-family="'Liberation Sans', Arial, Helvetica, sans-serif" font-size="61.5" font-weight="bold" text-anchor="middle">260</text>
<text transform="translate(1772.70 1260.80) scale(0.961 1)" font-family="'Liberation Sans', Arial, Helvetica, sans-serif" font-size="61.5" font-weight="bold" text-anchor="middle">270</text>
<text transform="translate(1976.00 1260.80) scale(0.961 1)" font-family="'Liberation Sans', Arial, Helvetica, sans-serif" font-size="61.5" font-weight="bold" text-anchor="middle">280</text>
<text transform="translate(2179.30 1260.80) scale(0.961 1)" font-family="'Liberation Sans', Arial, Helvetica, sans-serif" font-size="61.5" font-weight="bold" text-anchor="middle">290</text>
<text transform="translate(1369.50 728.20) scale(0.957 1)" font-family="'Liberation Sans', Arial, Helvetica, sans-serif" font-size="60.2" font-weight="bold" text-anchor="start">Shoulder peak</text>
<polygon points="1566.7,810.5 1583.1,769.5 1571.1,769.5 1571.1,749.0 1562.3,749.0 1562.3,769.5 1550.3,769.5" fill="#000"/>
</g>
<g id="panelB">
<polygon points="912.5,2014.6 937.9,1950.6 919.3,1950.6 919.3,1904.3 905.7,1904.3 905.7,1950.6 887.1,1950.6" fill="#000"/>
<g stroke="#000" stroke-width="12.9" fill="none" stroke-linecap="butt">
<line x1="334.9" y1="1759.9" x2="334.9" y2="3034.6"/>
<line x1="299.2" y1="3028.2" x2="2231.9" y2="3028.2"/>
<line x1="299.2" y1="1766.4" x2="334.9" y2="1766.4"/>
<line x1="299.2" y1="2018.7" x2="334.9" y2="2018.7"/>
<line x1="299.2" y1="2271.1" x2="334.9" y2="2271.1"/>
<line x1="299.2" y1="2523.5" x2="334.9" y2="2523.5"/>
<line x1="299.2" y1="2775.8" x2="334.9" y2="2775.8"/>
<line x1="556.4" y1="3028.2" x2="556.4" y2="3063.3"/>
<line x1="1113.7" y1="3028.2" x2="1113.7" y2="3063.3"/>
<line x1="1668.6" y1="3028.2" x2="1668.6" y2="3063.3"/>
<line x1="2224.7" y1="3028.2" x2="2224.7" y2="3063.3"/>
</g>
<g clip-path="url(#clipB)">
<line x1="372.5" y1="2271.1" x2="2240" y2="2271.1" stroke="#000" stroke-width="13.4" stroke-linecap="round" stroke-dasharray="0 37.85"/>
<polyline points="334.0,2180.9 345.1,2192.9 356.2,2210.0 367.4,2232.5 378.5,2260.1 389.6,2292.3 400.7,2325.3 411.9,2363.0 423.0,2407.8 434.1,2456.5 445.2,2508.9 456.3,2564.5 467.5,2620.5 478.6,2679.7 489.7,2732.7 500.8,2778.1 512.0,2813.5 523.1,2843.1 534.2,2854.5 545.3,2843.6 556.4,2813.5 567.6,2756.2 578.7,2665.1 589.8,2563.2 600.9,2477.6 612.0,2397.5 623.2,2325.9 634.3,2259.7 645.4,2218.8 656.5,2197.3 667.7,2187.7 678.8,2191.2 689.9,2199.5 701.0,2207.4 712.1,2227.8 723.3,2243.4 734.4,2252.7 745.5,2258.2 756.6,2245.7 767.8,2227.5 778.9,2206.3 790.0,2185.5 801.1,2166.1 812.2,2149.9 823.4,2135.0 834.5,2123.4 845.6,2113.7 856.7,2104.2 867.9,2091.7 879.0,2080.7 890.1,2069.0 901.2,2058.4 912.3,2052.5 923.5,2049.2 934.6,2053.9 945.7,2065.5 956.8,2082.1 968.0,2098.7 979.1,2118.2 990.2,2137.2 1001.3,2157.0 1012.4,2174.8 1023.6,2193.0 1034.7,2208.1 1045.8,2221.2 1056.9,2231.2 1068.1,2241.0 1079.2,2248.1 1090.3,2253.0 1101.4,2257.5 1112.5,2260.8 1123.7,2263.2 1134.8,2263.6 1145.9,2264.3 1157.0,2266.1 1168.2,2268.1 1179.3,2268.7 1190.4,2268.1 1201.5,2268.6 1212.6,2267.8 1223.8,2268.1 1234.9,2267.6 1246.0,2267.8 1257.1,2268.9 1268.2,2269.3 1279.4,2270.1 1290.5,2268.8 1301.6,2267.2 1312.7,2266.1 1323.9,2265.2 1335.0,2265.9 1346.1,2264.8 1357.2,2265.4 1368.3,2264.0 1379.5,2264.2 1390.6,2263.7 1401.7,2263.8 1412.8,2263.8 1424.0,2262.7 1435.1,2261.0 1446.2,2259.6 1457.3,2259.9 1468.4,2260.4 1479.6,2261.1 1490.7,2259.8 1501.8,2260.2 1512.9,2258.4 1524.1,2258.7 1535.2,2257.5 1546.3,2257.7 1557.4,2256.3 1568.5,2255.2 1579.7,2254.4 1590.8,2254.7 1601.9,2253.7 1613.0,2253.3 1624.2,2253.1 1635.3,2252.6 1646.4,2253.1 1657.5,2252.7 1668.6,2254.0 1679.8,2254.0 1690.9,2253.4 1702.0,2253.4 1713.1,2252.6 1724.2,2252.7 1735.4,2251.4 1746.5,2253.1 1757.6,2253.2 1768.7,2252.8 1779.9,2251.7 1791.0,2251.3 1802.1,2253.2 1813.2,2252.0 1824.3,2252.3 1835.5,2249.8 1846.6,2251.2 1857.7,2250.1 1868.8,2250.5 1880.0,2248.4 1891.1,2249.2 1902.2,2249.1 1913.3,2247.8 1924.4,2247.4 1935.6,2247.1 1946.7,2248.5 1957.8,2248.2 1968.9,2246.6 1980.1,2244.9 1991.2,2244.3 2002.3,2245.9 2013.4,2245.9 2024.5,2244.3 2035.7,2242.2 2046.8,2241.8 2057.9,2242.7 2069.0,2243.0 2080.2,2244.3 2091.3,2244.3 2102.4,2243.1 2113.5,2242.2 2124.6,2239.3 2135.8,2239.5 2146.9,2239.0 2158.0,2239.6 2169.1,2238.0 2180.3,2236.8 2191.4,2237.7 2202.5,2238.2 2213.6,2237.1 2224.7,2236.3" fill="none" stroke="#660066" stroke-width="3" stroke-linejoin="round" stroke-linecap="butt" shape-rendering="crispEdges"/>
<polyline points="334.0,2166.2 345.1,2180.1 356.2,2199.1 367.4,2222.7 378.5,2252.6 389.6,2286.7 400.7,2322.1 411.9,2359.8 423.0,2406.1 434.1,2456.2 445.2,2511.2 456.3,2568.5 467.5,2626.3 478.6,2687.2 489.7,2741.3 500.8,2786.7 512.0,2821.3 523.1,2851.6 534.2,2864.1 545.3,2851.1 556.4,2818.3 567.6,2757.5 578.7,2666.0 589.8,2563.2 600.9,2478.1 612.0,2397.9 623.2,2325.9 634.3,2260.0 645.4,2219.7 656.5,2198.0 667.7,2189.2 678.8,2198.7 689.9,2214.7 701.0,2227.3 712.1,2241.2 723.3,2249.8 734.4,2254.6 745.5,2253.8 756.6,2242.8 767.8,2224.7 778.9,2203.7 790.0,2183.1 801.1,2164.1 812.2,2146.6 823.4,2131.5 834.5,2120.0 845.6,2112.7 856.7,2104.2 867.9,2091.0 879.0,2078.6 890.1,2067.0 901.2,2058.1 912.3,2053.4 923.5,2050.6 934.6,2055.0 945.7,2066.8 956.8,2083.3 968.0,2099.6 979.1,2117.9 990.2,2135.6 1001.3,2154.4 1012.4,2173.1 1023.6,2189.6 1034.7,2205.2 1045.8,2218.1 1056.9,2230.0 1068.1,2239.9 1079.2,2246.6 1090.3,2251.9 1101.4,2255.3 1112.5,2258.1 1123.7,2258.8 1134.8,2259.2 1145.9,2261.3 1157.0,2264.1 1168.2,2265.8 1179.3,2266.3 1190.4,2265.4 1201.5,2266.5 1212.6,2266.1 1223.8,2266.4 1234.9,2265.8 1246.0,2266.0 1257.1,2265.9 1268.2,2265.8 1279.4,2265.4 1290.5,2264.4 1301.6,2264.3 1312.7,2262.7 1323.9,2262.8 1335.0,2261.4 1346.1,2262.2 1357.2,2261.9 1368.3,2260.8 1379.5,2260.6 1390.6,2260.9 1401.7,2262.4 1412.8,2262.0 1424.0,2259.3 1435.1,2258.4 1446.2,2257.2 1457.3,2259.0 1468.4,2258.5 1479.6,2258.4 1490.7,2256.1 1501.8,2256.5 1512.9,2256.2 1524.1,2256.9 1535.2,2256.7 1546.3,2256.8 1557.4,2256.8 1568.5,2257.4 1579.7,2256.6 1590.8,2255.7 1601.9,2254.1 1613.0,2255.1 1624.2,2254.2 1635.3,2253.4 1646.4,2251.5 1657.5,2251.3 1668.6,2251.6 1679.8,2251.5 1690.9,2252.4 1702.0,2251.9 1713.1,2252.3 1724.2,2251.9 1735.4,2251.0 1746.5,2250.7 1757.6,2250.6 1768.7,2251.4 1779.9,2251.0 1791.0,2251.3 1802.1,2251.3 1813.2,2251.4 1824.3,2250.9 1835.5,2250.4 1846.6,2250.6 1857.7,2248.6 1868.8,2247.3 1880.0,2246.3 1891.1,2247.4 1902.2,2246.5 1913.3,2246.3 1924.4,2246.0 1935.6,2246.9 1946.7,2246.6 1957.8,2245.2 1968.9,2245.1 1980.1,2243.5 1991.2,2244.7 2002.3,2243.8 2013.4,2245.6 2024.5,2243.4 2035.7,2243.7 2046.8,2242.7 2057.9,2242.9 2069.0,2241.5 2080.2,2241.8 2091.3,2242.3 2102.4,2243.6 2113.5,2242.4 2124.6,2241.8 2135.8,2240.7 2146.9,2240.9 2158.0,2240.6 2169.1,2240.5 2180.3,2239.2 2191.4,2237.5 2202.5,2237.9 2213.6,2237.8 2224.7,2238.8" fill="none" stroke="#000080" stroke-width="3" stroke-linejoin="round" stroke-linecap="butt" shape-rendering="crispEdges"/>
<polyline points="334.0,2171.8 345.1,2184.8 356.2,2203.7 367.4,2226.9 378.5,2255.7 389.6,2289.0 400.7,2323.5 411.9,2361.9 423.0,2407.9 434.1,2457.6 445.2,2512.6 456.3,2570.3 467.5,2627.1 478.6,2688.1 489.7,2744.2 500.8,2789.6 512.0,2823.7 523.1,2851.8 534.2,2862.3 545.3,2849.6 556.4,2817.5 567.6,2757.4 578.7,2665.4 589.8,2561.5 600.9,2474.9 612.0,2393.6 623.2,2320.8 634.3,2255.1 645.4,2214.7 656.5,2192.0 667.7,2181.8 678.8,2193.2 689.9,2210.0 701.0,2224.7 712.1,2240.3 723.3,2251.2 734.4,2257.4 745.5,2260.7 756.6,2247.8 767.8,2229.2 778.9,2206.2 790.0,2183.9 801.1,2161.2 812.2,2143.2 823.4,2128.5 834.5,2117.4 845.6,2108.6 856.7,2098.2 867.9,2085.5 879.0,2073.1 890.1,2060.5 901.2,2049.9 912.3,2044.4 923.5,2043.4 934.6,2049.7 945.7,2063.2 956.8,2081.6 968.0,2100.0 979.1,2117.5 990.2,2136.3 1001.3,2155.4 1012.4,2173.8 1023.6,2190.3 1034.7,2205.8 1045.8,2219.7 1056.9,2229.8 1068.1,2238.6 1079.2,2245.0 1090.3,2252.0 1101.4,2257.0 1112.5,2259.6 1123.7,2259.6 1134.8,2260.0 1145.9,2260.9 1157.0,2263.7 1168.2,2265.3 1179.3,2267.0 1190.4,2266.9 1201.5,2268.2 1212.6,2267.8 1223.8,2267.3 1234.9,2266.9 1246.0,2268.2 1257.1,2268.5 1268.2,2267.6 1279.4,2267.8 1290.5,2266.8 1301.6,2265.7 1312.7,2263.8 1323.9,2262.4 1335.0,2261.9 1346.1,2261.7 1357.2,2262.7 1368.3,2263.1 1379.5,2262.7 1390.6,2262.1 1401.7,2261.4 1412.8,2260.9 1424.0,2259.7 1435.1,2258.3 1446.2,2257.2 1457.3,2257.6 1468.4,2257.5 1479.6,2256.7 1490.7,2256.7 1501.8,2255.5 1512.9,2256.7 1524.1,2256.6 1535.2,2258.4 1546.3,2257.6 1557.4,2256.8 1568.5,2254.5 1579.7,2254.4 1590.8,2254.4 1601.9,2255.3 1613.0,2255.0 1624.2,2255.5 1635.3,2254.9 1646.4,2255.3 1657.5,2254.2 1668.6,2253.9 1679.8,2253.0 1690.9,2253.5 1702.0,2254.3 1713.1,2252.4 1724.2,2252.4 1735.4,2250.3 1746.5,2250.9 1757.6,2250.1 1768.7,2251.8 1779.9,2251.3 1791.0,2249.7 1802.1,2249.4 1813.2,2250.1 1824.3,2250.3 1835.5,2249.2 1846.6,2247.4 1857.7,2248.2 1868.8,2247.8 1880.0,2249.7 1891.1,2247.6 1902.2,2248.2 1913.3,2248.5 1924.4,2249.7 1935.6,2248.9 1946.7,2245.8 1957.8,2245.6 1968.9,2245.1 1980.1,2245.7 1991.2,2244.0 2002.3,2243.7 2013.4,2243.1 2024.5,2243.4 2035.7,2243.2 2046.8,2243.5 2057.9,2243.4 2069.0,2243.5 2080.2,2242.3 2091.3,2242.9 2102.4,2241.1 2113.5,2240.8 2124.6,2239.5 2135.8,2240.4 2146.9,2240.8 2158.0,2240.0 2169.1,2238.6 2180.3,2237.8 2191.4,2237.0 2202.5,2237.4 2213.6,2237.0 2224.7,2238.4" fill="none" stroke="#a86410" stroke-width="3" stroke-linejoin="round" stroke-linecap="butt" shape-rendering="crispEdges"/>
<polyline points="334.0,2165.6 345.1,2181.2 356.2,2199.6 367.4,2222.6 378.5,2251.4 389.6,2285.8 400.7,2322.8 411.9,2361.3 423.0,2407.8 434.1,2456.6 445.2,2511.8 456.3,2568.5 467.5,2627.2 478.6,2686.8 489.7,2741.2 500.8,2786.3 512.0,2822.7 523.1,2853.1 534.2,2866.2 545.3,2852.0 556.4,2818.5 567.6,2758.6 578.7,2666.0 589.8,2563.6 600.9,2476.6 612.0,2396.6 623.2,2323.9 634.3,2258.5 645.4,2217.8 656.5,2197.2 667.7,2187.3 678.8,2197.8 689.9,2211.3 701.0,2224.9 712.1,2237.4 723.3,2247.1 734.4,2251.4 745.5,2251.1 756.6,2238.3 767.8,2218.4 778.9,2197.6 790.0,2175.7 801.1,2156.3 812.2,2138.1 823.4,2123.9 834.5,2112.2 845.6,2104.3 856.7,2094.7 867.9,2081.3 879.0,2067.9 890.1,2056.3 901.2,2046.0 912.3,2040.3 923.5,2039.3 934.6,2044.7 945.7,2058.2 956.8,2076.2 968.0,2096.8 979.1,2115.9 990.2,2135.3 1001.3,2153.5 1012.4,2171.7 1023.6,2187.9 1034.7,2204.2 1045.8,2216.9 1056.9,2227.2 1068.1,2236.6 1079.2,2244.1 1090.3,2250.7 1101.4,2253.9 1112.5,2257.4 1123.7,2259.9 1134.8,2262.8 1145.9,2264.2 1157.0,2264.5 1168.2,2263.2 1179.3,2263.9 1190.4,2264.1 1201.5,2266.1 1212.6,2266.4 1223.8,2267.4 1234.9,2267.6 1246.0,2267.1 1257.1,2265.2 1268.2,2265.8 1279.4,2264.5 1290.5,2265.0 1301.6,2263.5 1312.7,2263.1 1323.9,2262.2 1335.0,2261.3 1346.1,2260.7 1357.2,2260.4 1368.3,2261.5 1379.5,2260.5 1390.6,2259.0 1401.7,2256.6 1412.8,2256.6 1424.0,2258.7 1435.1,2259.1 1446.2,2260.0 1457.3,2259.2 1468.4,2258.1 1479.6,2257.8 1490.7,2257.1 1501.8,2258.7 1512.9,2258.0 1524.1,2257.5 1535.2,2256.3 1546.3,2256.4 1557.4,2254.8 1568.5,2254.8 1579.7,2254.7 1590.8,2256.2 1601.9,2254.3 1613.0,2251.9 1624.2,2250.8 1635.3,2251.8 1646.4,2253.2 1657.5,2252.5 1668.6,2252.4 1679.8,2250.9 1690.9,2250.5 1702.0,2249.6 1713.1,2250.0 1724.2,2250.3 1735.4,2249.1 1746.5,2250.1 1757.6,2249.6 1768.7,2250.8 1779.9,2250.4 1791.0,2251.0 1802.1,2250.7 1813.2,2250.6 1824.3,2251.6 1835.5,2251.9 1846.6,2250.0 1857.7,2247.3 1868.8,2246.0 1880.0,2245.9 1891.1,2247.3 1902.2,2247.5 1913.3,2247.8 1924.4,2247.8 1935.6,2248.1 1946.7,2247.9 1957.8,2247.1 1968.9,2246.8 1980.1,2246.2 1991.2,2245.8 2002.3,2244.1 2013.4,2244.0 2024.5,2243.7 2035.7,2243.9 2046.8,2243.7 2057.9,2243.6 2069.0,2243.6 2080.2,2242.6 2091.3,2241.3 2102.4,2239.8 2113.5,2241.0 2124.6,2241.3 2135.8,2242.1 2146.9,2240.4 2158.0,2240.1 2169.1,2239.7 2180.3,2238.9 2191.4,2238.0 2202.5,2238.0 2213.6,2237.2 2224.7,2236.3" fill="none" stroke="#000000" stroke-width="3" stroke-linejoin="round" stroke-linecap="butt" shape-rendering="crispEdges"/>
<polyline points="334.0,2166.5 345.1,2180.9 356.2,2200.4 367.4,2223.9 378.5,2252.7 389.6,2287.0 400.7,2324.6 411.9,2363.5 423.0,2410.9 434.1,2458.6 445.2,2512.5 456.3,2569.6 467.5,2628.4 478.6,2690.3 489.7,2745.6 500.8,2789.4 512.0,2823.2 523.1,2850.8 534.2,2860.2 545.3,2847.1 556.4,2814.6 567.6,2755.9 578.7,2664.5 589.8,2562.8 600.9,2476.6 612.0,2396.6 623.2,2324.4 634.3,2260.2 645.4,2221.1 656.5,2199.9 667.7,2191.1 678.8,2198.8 689.9,2211.5 701.0,2222.1 712.1,2234.3 723.3,2243.2 734.4,2245.4 745.5,2244.5 756.6,2230.8 767.8,2212.9 778.9,2192.0 790.0,2171.6 801.1,2151.3 812.2,2132.8 823.4,2117.0 834.5,2105.5 845.6,2098.1 856.7,2088.7 867.9,2076.0 879.0,2062.2 890.1,2049.6 901.2,2037.3 912.3,2031.5 923.5,2032.6 934.6,2041.6 945.7,2058.5 956.8,2076.8 968.0,2095.7 979.1,2111.5 990.2,2129.7 1001.3,2148.7 1012.4,2167.6 1023.6,2184.7 1034.7,2199.8 1045.8,2213.7 1056.9,2225.4 1068.1,2236.3 1079.2,2242.3 1090.3,2247.0 1101.4,2250.1 1112.5,2254.7 1123.7,2257.5 1134.8,2259.7 1145.9,2260.1 1157.0,2261.8 1168.2,2262.8 1179.3,2264.0 1190.4,2263.9 1201.5,2264.5 1212.6,2264.8 1223.8,2265.5 1234.9,2265.9 1246.0,2264.9 1257.1,2264.6 1268.2,2263.7 1279.4,2263.9 1290.5,2264.2 1301.6,2263.2 1312.7,2263.1 1323.9,2261.1 1335.0,2261.0 1346.1,2261.0 1357.2,2261.7 1368.3,2262.0 1379.5,2261.1 1390.6,2260.9 1401.7,2259.7 1412.8,2259.0 1424.0,2257.6 1435.1,2258.0 1446.2,2257.4 1457.3,2257.8 1468.4,2257.2 1479.6,2256.7 1490.7,2255.9 1501.8,2255.8 1512.9,2256.7 1524.1,2256.2 1535.2,2255.4 1546.3,2254.5 1557.4,2254.8 1568.5,2254.4 1579.7,2252.2 1590.8,2251.6 1601.9,2251.4 1613.0,2252.5 1624.2,2253.8 1635.3,2253.7 1646.4,2254.1 1657.5,2251.2 1668.6,2251.3 1679.8,2251.1 1690.9,2252.0 1702.0,2251.5 1713.1,2251.2 1724.2,2251.0 1735.4,2251.8 1746.5,2251.5 1757.6,2250.7 1768.7,2248.4 1779.9,2247.6 1791.0,2247.8 1802.1,2248.1 1813.2,2247.7 1824.3,2246.6 1835.5,2246.5 1846.6,2247.0 1857.7,2247.7 1868.8,2248.1 1880.0,2247.5 1891.1,2247.3 1902.2,2247.7 1913.3,2249.0 1924.4,2249.3 1935.6,2249.8 1946.7,2248.0 1957.8,2247.2 1968.9,2246.7 1980.1,2245.9 1991.2,2245.0 2002.3,2243.5 2013.4,2242.5 2024.5,2241.5 2035.7,2242.0 2046.8,2242.1 2057.9,2242.7 2069.0,2241.3 2080.2,2241.0 2091.3,2241.4 2102.4,2241.7 2113.5,2242.5 2124.6,2242.1 2135.8,2241.4 2146.9,2241.5 2158.0,2241.3 2169.1,2240.4 2180.3,2239.1 2191.4,2237.7 2202.5,2238.9 2213.6,2239.0 2224.7,2239.3" fill="none" stroke="#ff8000" stroke-width="3" stroke-linejoin="round" stroke-linecap="butt" shape-rendering="crispEdges"/>
<polyline points="334.0,2160.4 345.1,2176.4 356.2,2197.5 367.4,2223.1 378.5,2252.6 389.6,2287.6 400.7,2323.7 411.9,2362.8 423.0,2409.6 434.1,2459.9 445.2,2514.9 456.3,2575.4 467.5,2635.3 478.6,2698.9 489.7,2757.0 500.8,2801.3 512.0,2835.5 523.1,2862.9 534.2,2874.6 545.3,2859.1 556.4,2822.7 567.6,2759.8 578.7,2665.6 589.8,2562.8 600.9,2476.2 612.0,2393.6 623.2,2321.1 634.3,2256.7 645.4,2217.1 656.5,2195.6 667.7,2185.4 678.8,2195.3 689.9,2208.4 701.0,2219.5 712.1,2232.0 723.3,2239.6 734.4,2243.5 745.5,2240.4 756.6,2227.3 767.8,2207.7 778.9,2186.3 790.0,2164.6 801.1,2144.6 812.2,2127.2 823.4,2112.4 834.5,2100.7 845.6,2091.8 856.7,2082.2 867.9,2069.3 879.0,2058.0 890.1,2047.3 901.2,2038.0 912.3,2033.2 923.5,2032.9 934.6,2039.2 945.7,2053.1 956.8,2071.4 968.0,2090.5 979.1,2109.2 990.2,2128.7 1001.3,2148.7 1012.4,2168.3 1023.6,2184.8 1034.7,2200.7 1045.8,2213.5 1056.9,2225.8 1068.1,2235.4 1079.2,2243.2 1090.3,2247.7 1101.4,2252.0 1112.5,2255.2 1123.7,2257.3 1134.8,2258.3 1145.9,2259.4 1157.0,2260.7 1168.2,2262.9 1179.3,2263.6 1190.4,2264.9 1201.5,2265.6 1212.6,2266.0 1223.8,2266.3 1234.9,2264.7 1246.0,2263.1 1257.1,2262.8 1268.2,2262.3 1279.4,2262.8 1290.5,2261.8 1301.6,2261.7 1312.7,2260.9 1323.9,2259.0 1335.0,2259.0 1346.1,2259.6 1357.2,2260.0 1368.3,2260.1 1379.5,2259.1 1390.6,2261.7 1401.7,2260.4 1412.8,2259.3 1424.0,2256.4 1435.1,2256.1 1446.2,2255.2 1457.3,2255.5 1468.4,2255.2 1479.6,2256.5 1490.7,2256.4 1501.8,2256.0 1512.9,2254.9 1524.1,2255.2 1535.2,2255.4 1546.3,2255.5 1557.4,2254.8 1568.5,2254.4 1579.7,2254.2 1590.8,2254.4 1601.9,2255.2 1613.0,2253.4 1624.2,2253.1 1635.3,2251.9 1646.4,2252.5 1657.5,2250.8 1668.6,2251.5 1679.8,2251.9 1690.9,2252.1 1702.0,2250.6 1713.1,2250.6 1724.2,2251.3 1735.4,2251.0 1746.5,2249.7 1757.6,2248.5 1768.7,2249.5 1779.9,2249.8 1791.0,2249.8 1802.1,2248.7 1813.2,2249.6 1824.3,2249.4 1835.5,2249.9 1846.6,2249.6 1857.7,2249.3 1868.8,2248.9 1880.0,2248.1 1891.1,2247.7 1902.2,2248.4 1913.3,2247.9 1924.4,2247.6 1935.6,2246.1 1946.7,2245.0 1957.8,2245.8 1968.9,2246.7 1980.1,2246.9 1991.2,2245.5 2002.3,2242.7 2013.4,2242.1 2024.5,2242.7 2035.7,2243.2 2046.8,2243.9 2057.9,2243.9 2069.0,2242.3 2080.2,2241.2 2091.3,2239.4 2102.4,2240.4 2113.5,2239.0 2124.6,2238.9 2135.8,2238.1 2146.9,2239.6 2158.0,2240.3 2169.1,2239.8 2180.3,2237.7 2191.4,2236.0 2202.5,2236.4 2213.6,2236.8 2224.7,2237.3" fill="none" stroke="#cc00ff" stroke-width="3" stroke-linejoin="round" stroke-linecap="butt" shape-rendering="crispEdges"/>
<polyline points="334.0,2155.8 345.1,2173.5 356.2,2196.0 367.4,2221.6 378.5,2251.1 389.6,2285.9 400.7,2322.7 411.9,2361.4 423.0,2408.4 434.1,2459.8 445.2,2515.0 456.3,2576.0 467.5,2636.0 478.6,2699.1 489.7,2755.6 500.8,2797.9 512.0,2829.6 523.1,2855.6 534.2,2865.3 545.3,2853.6 556.4,2821.7 567.6,2762.3 578.7,2669.8 589.8,2566.8 600.9,2479.8 612.0,2399.1 623.2,2326.1 634.3,2259.8 645.4,2218.6 656.5,2195.5 667.7,2184.3 678.8,2190.5 689.9,2202.4 701.0,2213.5 712.1,2226.9 723.3,2236.9 734.4,2239.0 745.5,2238.3 756.6,2225.1 767.8,2208.1 778.9,2187.2 790.0,2167.2 801.1,2147.5 812.2,2129.7 823.4,2113.4 834.5,2101.0 845.6,2092.6 856.7,2083.7 867.9,2070.8 879.0,2059.1 890.1,2047.4 901.2,2037.4 912.3,2032.1 923.5,2031.3 934.6,2039.1 945.7,2052.6 956.8,2072.6 968.0,2091.6 979.1,2111.2 990.2,2130.1 1001.3,2149.8 1012.4,2167.3 1023.6,2184.4 1034.7,2199.4 1045.8,2213.4 1056.9,2223.8 1068.1,2233.7 1079.2,2240.3 1090.3,2246.9 1101.4,2250.4 1112.5,2253.7 1123.7,2254.9 1134.8,2258.2 1145.9,2261.0 1157.0,2263.1 1168.2,2263.5 1179.3,2263.5 1190.4,2264.0 1201.5,2265.1 1212.6,2264.2 1223.8,2263.7 1234.9,2263.7 1246.0,2263.6 1257.1,2262.7 1268.2,2261.8 1279.4,2262.6 1290.5,2263.4 1301.6,2263.7 1312.7,2263.0 1323.9,2261.6 1335.0,2260.2 1346.1,2259.1 1357.2,2258.5 1368.3,2258.2 1379.5,2258.9 1390.6,2260.2 1401.7,2260.3 1412.8,2260.0 1424.0,2258.7 1435.1,2258.2 1446.2,2258.1 1457.3,2258.1 1468.4,2257.6 1479.6,2256.4 1490.7,2255.8 1501.8,2255.1 1512.9,2255.0 1524.1,2255.0 1535.2,2255.0 1546.3,2253.3 1557.4,2252.7 1568.5,2251.7 1579.7,2251.7 1590.8,2249.9 1601.9,2251.0 1613.0,2250.3 1624.2,2250.9 1635.3,2250.3 1646.4,2251.6 1657.5,2251.0 1668.6,2250.6 1679.8,2250.4 1690.9,2249.7 1702.0,2250.1 1713.1,2250.5 1724.2,2250.7 1735.4,2249.6 1746.5,2248.0 1757.6,2249.2 1768.7,2248.8 1779.9,2249.0 1791.0,2247.0 1802.1,2248.4 1813.2,2248.4 1824.3,2249.6 1835.5,2249.7 1846.6,2250.1 1857.7,2248.9 1868.8,2247.9 1880.0,2247.7 1891.1,2247.6 1902.2,2246.3 1913.3,2244.9 1924.4,2245.7 1935.6,2246.1 1946.7,2245.8 1957.8,2245.4 1968.9,2245.5 1980.1,2245.4 1991.2,2243.5 2002.3,2243.5 2013.4,2245.5 2024.5,2247.2 2035.7,2246.8 2046.8,2244.8 2057.9,2243.1 2069.0,2242.1 2080.2,2242.2 2091.3,2242.1 2102.4,2242.3 2113.5,2241.5 2124.6,2241.7 2135.8,2238.8 2146.9,2237.9 2158.0,2237.6 2169.1,2239.7 2180.3,2240.2 2191.4,2240.3 2202.5,2239.7 2213.6,2239.5 2224.7,2237.5" fill="none" stroke="#00c000" stroke-width="3" stroke-linejoin="round" stroke-linecap="butt" shape-rendering="crispEdges"/>
<polyline points="334.0,2157.8 345.1,2173.4 356.2,2194.0 367.4,2219.5 378.5,2249.2 389.6,2285.4 400.7,2322.5 411.9,2361.8 423.0,2407.6 434.1,2457.1 445.2,2512.3 456.3,2571.7 467.5,2630.8 478.6,2693.1 489.7,2747.8 500.8,2793.4 512.0,2829.0 523.1,2859.0 534.2,2871.4 545.3,2855.8 556.4,2821.9 567.6,2759.5 578.7,2665.5 589.8,2564.1 600.9,2479.7 612.0,2400.9 623.2,2330.2 634.3,2264.1 645.4,2223.3 656.5,2201.2 667.7,2192.1 678.8,2196.8 689.9,2207.9 701.0,2215.7 712.1,2229.9 723.3,2238.1 734.4,2242.0 745.5,2241.1 756.6,2226.9 767.8,2206.4 778.9,2184.3 790.0,2162.5 801.1,2143.5 812.2,2125.5 823.4,2110.3 834.5,2097.7 845.6,2089.6 856.7,2079.9 867.9,2067.1 879.0,2054.4 890.1,2043.1 901.2,2033.6 912.3,2027.9 923.5,2029.3 934.6,2036.8 945.7,2051.6 956.8,2070.9 968.0,2090.7 979.1,2109.2 990.2,2127.4 1001.3,2145.2 1012.4,2165.3 1023.6,2180.9 1034.7,2197.0 1045.8,2208.6 1056.9,2220.6 1068.1,2230.8 1079.2,2239.2 1090.3,2244.3 1101.4,2249.4 1112.5,2252.4 1123.7,2254.7 1134.8,2256.3 1145.9,2257.7 1157.0,2259.9 1168.2,2261.6 1179.3,2261.5 1190.4,2262.0 1201.5,2262.6 1212.6,2263.7 1223.8,2264.6 1234.9,2264.0 1246.0,2263.7 1257.1,2263.3 1268.2,2261.7 1279.4,2261.7 1290.5,2260.0 1301.6,2260.2 1312.7,2258.6 1323.9,2259.1 1335.0,2259.0 1346.1,2260.0 1357.2,2258.9 1368.3,2257.6 1379.5,2255.1 1390.6,2254.3 1401.7,2254.4 1412.8,2255.7 1424.0,2256.0 1435.1,2255.9 1446.2,2254.4 1457.3,2253.8 1468.4,2254.0 1479.6,2255.2 1490.7,2254.6 1501.8,2253.6 1512.9,2253.0 1524.1,2252.8 1535.2,2253.0 1546.3,2252.7 1557.4,2253.5 1568.5,2254.3 1579.7,2253.2 1590.8,2253.4 1601.9,2252.2 1613.0,2253.1 1624.2,2251.5 1635.3,2250.9 1646.4,2250.2 1657.5,2251.6 1668.6,2251.4 1679.8,2252.2 1690.9,2250.7 1702.0,2250.3 1713.1,2249.1 1724.2,2247.8 1735.4,2247.6 1746.5,2247.1 1757.6,2248.2 1768.7,2248.6 1779.9,2248.2 1791.0,2247.5 1802.1,2248.1 1813.2,2247.9 1824.3,2248.1 1835.5,2246.4 1846.6,2246.6 1857.7,2247.6 1868.8,2248.8 1880.0,2247.6 1891.1,2246.4 1902.2,2246.3 1913.3,2247.0 1924.4,2247.1 1935.6,2247.1 1946.7,2248.6 1957.8,2249.1 1968.9,2247.4 1980.1,2245.6 1991.2,2244.4 2002.3,2244.1 2013.4,2243.3 2024.5,2244.3 2035.7,2244.4 2046.8,2245.0 2057.9,2244.1 2069.0,2243.9 2080.2,2243.1 2091.3,2242.1 2102.4,2242.4 2113.5,2242.3 2124.6,2240.4 2135.8,2239.8 2146.9,2240.2 2158.0,2241.0 2169.1,2239.5 2180.3,2237.7 2191.4,2238.2 2202.5,2237.6 2213.6,2238.0 2224.7,2237.7" fill="none" stroke="#ff0000" stroke-width="3" stroke-linejoin="round" stroke-linecap="butt" shape-rendering="crispEdges"/>
<polyline points="334.0,2161.5 345.1,2176.4 356.2,2198.8 367.4,2224.7 378.5,2254.4 389.6,2288.7 400.7,2324.0 411.9,2363.7 423.0,2410.4 434.1,2460.5 445.2,2514.6 456.3,2575.0 467.5,2634.1 478.6,2696.1 489.7,2751.2 500.8,2795.7 512.0,2830.4 523.1,2857.0 534.2,2868.2 545.3,2854.1 556.4,2822.0 567.6,2760.1 578.7,2667.1 589.8,2563.8 600.9,2477.8 612.0,2397.6 623.2,2325.7 634.3,2259.5 645.4,2218.1 656.5,2195.8 667.7,2185.8 678.8,2194.1 689.9,2208.0 701.0,2220.7 712.1,2233.2 723.3,2241.2 734.4,2242.8 745.5,2242.0 756.6,2228.6 767.8,2209.8 778.9,2188.5 790.0,2167.5 801.1,2146.9 812.2,2130.1 823.4,2114.8 834.5,2103.3 845.6,2094.4 856.7,2085.6 867.9,2072.0 879.0,2059.0 890.1,2045.5 901.2,2036.1 912.3,2030.1 923.5,2031.4 934.6,2038.6 945.7,2053.1 956.8,2071.6 968.0,2091.4 979.1,2110.2 990.2,2128.7 1001.3,2148.0 1012.4,2167.3 1023.6,2185.6 1034.7,2201.7 1045.8,2214.7 1056.9,2225.7 1068.1,2235.8 1079.2,2243.0 1090.3,2248.1 1101.4,2251.3 1112.5,2254.4 1123.7,2255.3 1134.8,2257.5 1145.9,2256.6 1157.0,2258.8 1168.2,2259.9 1179.3,2263.3 1190.4,2266.5 1201.5,2267.3 1212.6,2267.2 1223.8,2264.1 1234.9,2264.8 1246.0,2263.4 1257.1,2264.5 1268.2,2262.6 1279.4,2265.1 1290.5,2264.2 1301.6,2264.4 1312.7,2261.6 1323.9,2261.2 1335.0,2261.3 1346.1,2260.7 1357.2,2259.9 1368.3,2258.4 1379.5,2258.0 1390.6,2257.4 1401.7,2257.4 1412.8,2258.7 1424.0,2260.0 1435.1,2258.8 1446.2,2257.1 1457.3,2255.8 1468.4,2256.6 1479.6,2256.8 1490.7,2256.5 1501.8,2256.1 1512.9,2256.3 1524.1,2254.6 1535.2,2253.9 1546.3,2253.5 1557.4,2255.5 1568.5,2255.8 1579.7,2254.6 1590.8,2252.9 1601.9,2252.3 1613.0,2252.4 1624.2,2252.9 1635.3,2253.2 1646.4,2252.1 1657.5,2251.4 1668.6,2248.8 1679.8,2249.9 1690.9,2250.1 1702.0,2251.0 1713.1,2250.5 1724.2,2251.2 1735.4,2252.2 1746.5,2251.9 1757.6,2250.5 1768.7,2249.8 1779.9,2249.1 1791.0,2248.5 1802.1,2248.0 1813.2,2248.5 1824.3,2249.2 1835.5,2248.8 1846.6,2248.0 1857.7,2247.5 1868.8,2247.3 1880.0,2247.9 1891.1,2248.6 1902.2,2249.3 1913.3,2248.3 1924.4,2246.7 1935.6,2244.7 1946.7,2244.8 1957.8,2244.2 1968.9,2244.1 1980.1,2243.1 1991.2,2243.8 2002.3,2244.5 2013.4,2244.7 2024.5,2244.6 2035.7,2243.8 2046.8,2242.9 2057.9,2242.2 2069.0,2240.8 2080.2,2241.4 2091.3,2240.8 2102.4,2241.9 2113.5,2241.8 2124.6,2241.0 2135.8,2240.5 2146.9,2238.5 2158.0,2238.0 2169.1,2237.2 2180.3,2238.1 2191.4,2239.0 2202.5,2239.0 2213.6,2239.0 2224.7,2237.1" fill="none" stroke="#0000ff" stroke-width="3" stroke-linejoin="round" stroke-linecap="butt" shape-rendering="crispEdges"/>
</g>
<text transform="translate(285.00 1794.98) scale(0.963 1)" font-family="'Liberation Sans', Arial, Helvetica, sans-serif" font-size="98.7" font-weight="bold" text-anchor="end">40</text>
<text transform="translate(285.00 2047.34) scale(0.963 1)" font-family="'Liberation Sans', Arial, Helvetica, sans-serif" font-size="98.7" font-weight="bold" text-anchor="end">20</text>
<text transform="translate(285.00 2299.70) scale(0.963 1)" font-family="'Liberation Sans', Arial, Helvetica, sans-serif" font-size="98.7" font-weight="bold" text-anchor="end">0</text>
<text transform="translate(285.00 2552.06) scale(0.963 1)" font-family="'Liberation Sans', Arial, Helvetica, sans-serif" font-size="98.7" font-weight="bold" text-anchor="end">-20</text>
<text transform="translate(285.00 2804.42) scale(0.963 1)" font-family="'Liberation Sans', Arial, Helvetica, sans-serif" font-size="98.7" font-weight="bold" text-anchor="end">-40</text>
<text transform="translate(285.00 3056.78) scale(0.963 1)" font-family="'Liberation Sans', Arial, Helvetica, sans-serif" font-size="98.7" font-weight="bold" text-anchor="end">-60</text>
<text transform="translate(554.70 3167.00) scale(0.963 1)" font-family="'Liberation Sans', Arial, Helvetica, sans-serif" font-size="98.7" font-weight="bold" text-anchor="middle">250</text>
<text transform="translate(1110.60 3167.00) scale(0.963 1)" font-family="'Liberation Sans', Arial, Helvetica, sans-serif" font-size="98.7" font-weight="bold" text-anchor="middle">300</text>
<text transform="translate(1666.70 3167.00) scale(0.963 1)" font-family="'Liberation Sans', Arial, Helvetica, sans-serif" font-size="98.7" font-weight="bold" text-anchor="middle">350</text>
<text transform="translate(2222.80 3167.00) scale(0.963 1)" font-family="'Liberation Sans', Arial, Helvetica, sans-serif" font-size="98.7" font-weight="bold" text-anchor="middle">400</text>
<text transform="translate(1280.20 3297.80) scale(1.013 1)" font-family="'Liberation Sans', Arial, Helvetica, sans-serif" font-size="103.9" font-weight="bold" text-anchor="middle">Wavelength (nm)</text>
<text transform="translate(107.9 2395.9) rotate(-90) scale(1.002 1)" font-family="'Liberation Sans', Arial, Helvetica, sans-serif" font-size="104.7" font-weight="bold" text-anchor="middle">CD (mdeg)</text>
<text y="3410.4" font-family="'Liberation Serif', 'Times New Roman', serif" font-size="79.0" text-anchor="start"><tspan x="1108.2" font-size="76.5" textLength="22.9" lengthAdjust="spacingAndGlyphs">(</tspan><tspan x="1132.6" font-weight="bold" textLength="46.4" lengthAdjust="spacingAndGlyphs">B</tspan><tspan x="1181.7" font-size="76.5" textLength="22.9" lengthAdjust="spacingAndGlyphs">)</tspan></text>
</g>
</svg>
</body>
</html>
